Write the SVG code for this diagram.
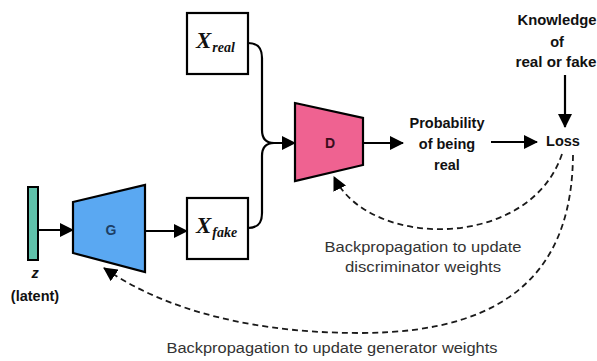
<svg xmlns="http://www.w3.org/2000/svg" width="597" height="361" viewBox="0 0 597 361">
  <style>
    .line { fill: none; stroke: #000; stroke-width: 2.2; }
    .dash { fill: none; stroke: #1a1a1a; stroke-width: 1.8; stroke-dasharray: 6 4; }
    .box { fill: #fff; stroke: #000; stroke-width: 2.2; }
    .lbl { font-family: "Liberation Sans", Arial, sans-serif; font-weight: bold; font-size: 14.5px; fill: #111; text-anchor: middle; }
    .note { font-family: "Liberation Sans", Arial, sans-serif; font-size: 15.5px; fill: #333; text-anchor: middle; }
    .math { font-family: "Liberation Serif", serif; font-style: italic; font-weight: bold; fill: #111; }
    .net { font-family: "Liberation Sans", Arial, sans-serif; font-weight: bold; font-size: 14px; text-anchor: middle; }
  </style>
  <defs>
    <marker id="arrowBig" markerWidth="14" markerHeight="14" refX="13" refY="7" orient="auto" markerUnits="userSpaceOnUse">
      <path d="M0,0 L14,7 L0,14 Z" fill="#000"/>
    </marker>
  </defs>

  <rect width="597" height="361" fill="#fff"/>

  <!-- connectors -->
  <g id="connectors">
    <line class="line" x1="38" y1="230" x2="73" y2="230" marker-end="url(#arrowBig)"/>
    <line class="line" x1="145" y1="231" x2="187" y2="231" marker-end="url(#arrowBig)"/>
    <path class="line" d="M248,43 C258,43 262,48 262,58 L262,130 C262,138 266,143 274,143 L295,143" marker-end="url(#arrowBig)"/>
    <path class="line" d="M248,228 C258,228 262,223 262,213 L262,156 C262,148 266,143 274,143"/>
    <line class="line" x1="363" y1="143" x2="403" y2="143" marker-end="url(#arrowBig)"/>
    <line class="line" x1="491" y1="142" x2="537" y2="142" marker-end="url(#arrowBig)"/>
    <line class="line" x1="565" y1="75" x2="565" y2="127" marker-end="url(#arrowBig)"/>
    <path class="dash" d="M562,154 C530,250 370,250 334,177" marker-end="url(#arrowBig)"/>
    <path class="dash" d="M573,155 C572,260 520,333 360,333 C230,333 150,300 104,268" marker-end="url(#arrowBig)"/>
  </g>

  <!-- latent vector z -->
  <g id="z">
    <rect x="28" y="187" width="10" height="73" fill="#5fc1aa" stroke="#000" stroke-width="2"/>
    <text class="lbl" x="35" y="278" font-style="italic">z</text>
    <text class="lbl" x="35" y="301">(latent)</text>
  </g>

  <!-- generator -->
  <g id="G">
    <polygon points="73,202 145,185 145,272 73,253" fill="#5aa8f2" stroke="#000" stroke-width="2.2"/>
    <text class="net" x="111" y="235" fill="#1d3f66">G</text>
  </g>

  <!-- real sample -->
  <g id="Xreal">
    <rect class="box" x="187" y="13" width="61" height="61"/>
    <text class="math" x="196" y="48" font-size="23">X<tspan font-size="14" dx="1" dy="4">real</tspan></text>
  </g>

  <!-- generated sample -->
  <g id="Xfake">
    <rect class="box" x="187" y="198" width="61" height="61"/>
    <text class="math" x="196" y="233" font-size="23">X<tspan font-size="14" dx="1" dy="4">fake</tspan></text>
  </g>

  <!-- discriminator -->
  <g id="D">
    <polygon points="295,103 363,118 363,165 295,181" fill="#ef6291" stroke="#000" stroke-width="2.2"/>
    <text class="net" x="330" y="148" fill="#3a0d1c">D</text>
  </g>

  <!-- discriminator output -->
  <g id="prob">
    <text class="lbl" x="447" y="128">Probability</text>
    <text class="lbl" x="447" y="149">of being</text>
    <text class="lbl" x="447" y="170">real</text>
  </g>

  <!-- loss -->
  <g id="loss">
    <text class="lbl" x="563" y="146">Loss</text>
  </g>

  <!-- ground truth labels -->
  <g id="knowledge">
    <text class="lbl" x="557" y="25" textLength="79" lengthAdjust="spacingAndGlyphs">Knowledge</text>
    <text class="lbl" x="557" y="47">of</text>
    <text class="lbl" x="556" y="67" textLength="81" lengthAdjust="spacingAndGlyphs">real or fake</text>
  </g>

  <!-- backprop annotations -->
  <g id="notes">
    <text class="note" x="423" y="252" textLength="197" lengthAdjust="spacingAndGlyphs">Backpropagation to update</text>
    <text class="note" x="423" y="272" textLength="156" lengthAdjust="spacingAndGlyphs">discriminator weights</text>
    <text class="note" x="332" y="353" textLength="331" lengthAdjust="spacingAndGlyphs">Backpropagation to update generator weights</text>
  </g>
</svg>
